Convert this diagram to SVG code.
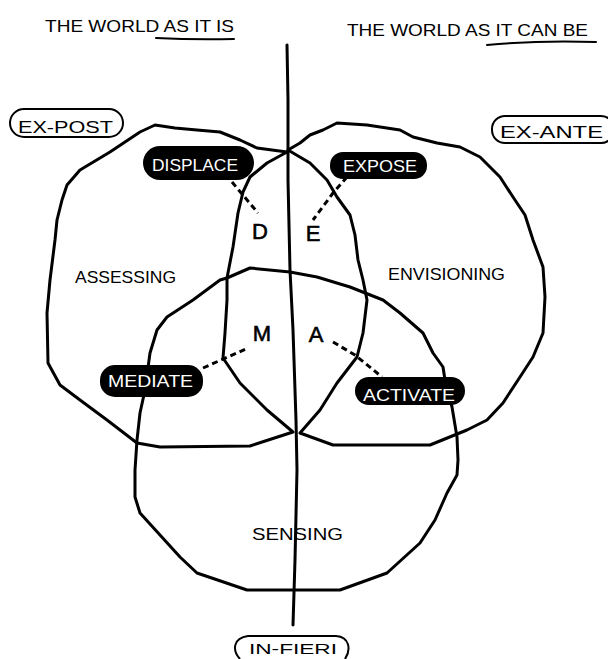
<svg xmlns="http://www.w3.org/2000/svg" width="608" height="659" viewBox="0 0 608 659">
<style>
.ln{fill:none;stroke:#000;stroke-width:3;stroke-linejoin:round;stroke-linecap:round}
.pill{fill:none;stroke:#000;stroke-width:2}
.blob{fill:#000}
.dash{fill:none;stroke:#000;stroke-width:3;stroke-dasharray:6 4}
.t{font-family:"Liberation Sans","DejaVu Sans",sans-serif;fill:#000;font-size:17px}
.w{fill:#fff}
.c{text-anchor:middle}
.big{font-size:22px;stroke:#000;stroke-width:0.6}
</style>
<rect width="608" height="659" fill="#fff"/>
<g id="headings">
<text class="t" x="45" y="32" textLength="189" lengthAdjust="spacingAndGlyphs">THE WORLD AS IT IS</text>
<path class="ln" style="stroke-width:2" d="M156,38 Q195,40 234,39"/>
<text class="t" x="347" y="36" textLength="241" lengthAdjust="spacingAndGlyphs">THE WORLD AS IT CAN BE</text>
<path class="ln" style="stroke-width:2" d="M487,45 Q540,40 596,42"/>
</g>
<g id="axis">
<polyline class="ln" points="287,45 288,100 288,180 290,270 293,330 296,420 297,470 295,560 293,625"/>
</g>
<g id="assessing">
<polyline class="ln" points="287,152 257,148 240,140 220,132 197,130 175,128 155,125 140,132 110,152 80,170 67,185 62,200 57,220 55,240 50,280 47,313 48,363 60,385 80,400 107,420 137,443 160,447 250,446 293,432 267,410 240,383 223,358 225,333 227,300 227,278 233,247 238,213 243,192 250,177 267,163 287,152"/>
<text class="t" x="75" y="283" textLength="101" lengthAdjust="spacingAndGlyphs">ASSESSING</text>
</g>
<g id="envisioning">
<polyline class="ln" points="288,150 300,143 310,135 323,130 337,123 367,125 400,130 413,137 437,143 460,147 480,157 500,177 513,197 525,215 533,240 543,267 545,297 543,333 533,357 520,377 503,403 487,420 467,430 430,445 333,445 300,433 320,410 337,383 357,357 363,333 367,300 363,280 358,260 355,235 350,215 337,197 327,180 310,163 288,150"/>
<text class="t" x="388" y="280" textLength="117" lengthAdjust="spacingAndGlyphs">ENVISIONING</text>
</g>
<g id="sensing">
<polyline class="ln" points="290,272 317,277 350,287 383,300 400,313 423,333 433,353 443,367 445,380 452,407 457,437 458,460 457,475 447,493 435,520 420,543 387,573 340,590 247,590 197,573 180,557 160,535 140,513 135,497 135,470 137,440 140,413 145,390 150,353 157,330 167,317 193,300 220,280 227,278 250,268 290,272"/>
<text class="t" x="252" y="540" textLength="91" lengthAdjust="spacingAndGlyphs">SENSING</text>
</g>
<g id="ex-post">
<rect class="pill" x="10" y="109" width="113" height="28" rx="14"/>
<text class="t" x="18" y="133" textLength="95" lengthAdjust="spacingAndGlyphs">EX-POST</text>
</g>
<g id="ex-ante">
<rect class="pill" x="492" y="116" width="122" height="27" rx="13"/>
<text class="t" x="500" y="138" textLength="103" lengthAdjust="spacingAndGlyphs">EX-ANTE</text>
</g>
<g id="in-fieri">
<path class="pill" d="M240,659 C232,650 233,638 248,636 L336,636 C350,637 351,650 345,659"/>
<text class="t" x="249" y="654" style="font-size:15px" textLength="88" lengthAdjust="spacingAndGlyphs">IN-FIERI</text>
</g>
<g id="connectors">
<polyline class="dash" points="232,182 258,213"/>
<polyline class="dash" points="347,177 333,193 313,220"/>
<polyline class="dash" points="203,368 248,348"/>
<polyline class="dash" points="333,342 355,355 382,377"/>
</g>
<g id="displace">
<rect class="blob" x="143" y="146" width="111" height="34" rx="17"/>
<text class="t w" x="152" y="171" textLength="86" lengthAdjust="spacingAndGlyphs">DISPLACE</text>
</g>
<g id="expose">
<rect class="blob" x="330" y="152" width="97" height="27" rx="13"/>
<text class="t w" x="343" y="172" textLength="74" lengthAdjust="spacingAndGlyphs">EXPOSE</text>
</g>
<g id="mediate">
<rect class="blob" x="100" y="365" width="103" height="32" rx="15"/>
<text class="t w" x="108" y="387" textLength="85" lengthAdjust="spacingAndGlyphs">MEDIATE</text>
</g>
<g id="activate">
<rect class="blob" x="355" y="377" width="110" height="28" rx="14"/>
<text class="t w" x="363" y="401" textLength="92" lengthAdjust="spacingAndGlyphs">ACTIVATE</text>
</g>
<g id="letters">
<text class="t c big" x="260" y="239">D</text>
<text class="t c big" x="313" y="241">E</text>
<text class="t c big" x="262" y="341">M</text>
<text class="t c big" x="316" y="342">A</text>
</g>
</svg>
